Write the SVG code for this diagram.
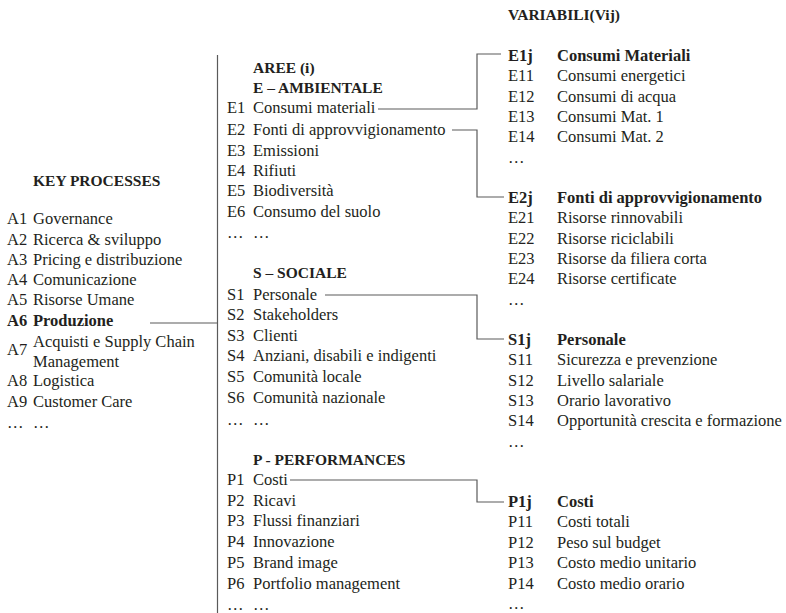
<svg xmlns="http://www.w3.org/2000/svg" width="786" height="613" viewBox="0 0 786 613">
<style>
text{font-family:"Liberation Serif","Times New Roman",serif;font-size:16.5px;fill:#231f20}
.b{font-weight:bold}
.h{font-weight:bold;font-size:15.5px}
.ln{fill:none;stroke:#5a5a5a;stroke-width:1.2}
</style>
<rect width="786" height="613" fill="#fff"/>
<g id="connectors">
<line class="ln" x1="217.5" y1="55" x2="217.5" y2="613"/>
<path class="ln" d="M150 323 H217.5"/>
<path class="ln" d="M378 109 H477 V54 H501"/>
<path class="ln" d="M452 130 H477 V197 H504"/>
<path class="ln" d="M325 295 H477 V339 H504"/>
<path class="ln" d="M290 480 H477 V502 H504"/>
</g>
<g id="key-processes">
<text class="h" x="33" y="186">KEY PROCESSES</text>
<text x="7" y="224">A1</text><text x="33" y="224">Governance</text>
<text x="7" y="245">A2</text><text x="33" y="245">Ricerca &amp; sviluppo</text>
<text x="7" y="265">A3</text><text x="33" y="265">Pricing e distribuzione</text>
<text x="7" y="285">A4</text><text x="33" y="285">Comunicazione</text>
<text x="7" y="305">A5</text><text x="33" y="305">Risorse Umane</text>
<text class="b" x="7" y="326">A6</text><text class="b" x="33" y="326">Produzione</text>
<text x="7" y="355">A7</text><text x="33" y="347">Acquisti e Supply Chain</text><text x="33" y="367">Management</text>
<text x="7" y="386">A8</text><text x="33" y="386">Logistica</text>
<text x="7" y="407">A9</text><text x="33" y="407">Customer Care</text>
<text x="7" y="428">…</text><text x="33" y="428">…</text>
</g>
<g id="aree-ambientale">
<text class="h" x="253" y="73">AREE (i)</text>
<text class="h" x="253" y="93">E – AMBIENTALE</text>
<text x="227" y="113">E1</text><text x="253" y="113">Consumi materiali</text>
<text x="227" y="135">E2</text><text x="253" y="135">Fonti di approvvigionamento</text>
<text x="227" y="156">E3</text><text x="253" y="156">Emissioni</text>
<text x="227" y="176">E4</text><text x="253" y="176">Rifiuti</text>
<text x="227" y="196">E5</text><text x="253" y="196">Biodiversità</text>
<text x="227" y="217">E6</text><text x="253" y="217">Consumo del suolo</text>
<text x="227" y="238">…</text><text x="253" y="238">…</text>
</g>
<g id="aree-sociale">
<text class="h" x="253" y="278">S – SOCIALE</text>
<text x="227" y="300">S1</text><text x="253" y="300">Personale</text>
<text x="227" y="320">S2</text><text x="253" y="320">Stakeholders</text>
<text x="227" y="341">S3</text><text x="253" y="341">Clienti</text>
<text x="227" y="361">S4</text><text x="253" y="361">Anziani, disabili e indigenti</text>
<text x="227" y="382">S5</text><text x="253" y="382">Comunità locale</text>
<text x="227" y="403">S6</text><text x="253" y="403">Comunità nazionale</text>
<text x="227" y="425">…</text><text x="253" y="425">…</text>
</g>
<g id="aree-performances">
<text class="h" x="253" y="465">P - PERFORMANCES</text>
<text x="227" y="485">P1</text><text x="253" y="485">Costi</text>
<text x="227" y="506">P2</text><text x="253" y="506">Ricavi</text>
<text x="227" y="526">P3</text><text x="253" y="526">Flussi finanziari</text>
<text x="227" y="547">P4</text><text x="253" y="547">Innovazione</text>
<text x="227" y="568">P5</text><text x="253" y="568">Brand image</text>
<text x="227" y="589">P6</text><text x="253" y="589">Portfolio management</text>
<text x="227" y="610">…</text><text x="253" y="610">…</text>
</g>
<g id="variabili-header">
<text class="h" x="508" y="20">VARIABILI(Vij)</text>
</g>
<g id="var-e1j">
<text class="b" x="508" y="61">E1j</text><text class="b" x="557" y="61">Consumi Materiali</text>
<text x="508" y="81">E11</text><text x="557" y="81">Consumi energetici</text>
<text x="508" y="102">E12</text><text x="557" y="102">Consumi di acqua</text>
<text x="508" y="122">E13</text><text x="557" y="122">Consumi Mat. 1</text>
<text x="508" y="142">E14</text><text x="557" y="142">Consumi Mat. 2</text>
<text x="508" y="163">…</text>
</g>
<g id="var-e2j">
<text class="b" x="508" y="203">E2j</text><text class="b" x="557" y="203">Fonti di approvvigionamento</text>
<text x="508" y="223">E21</text><text x="557" y="223">Risorse rinnovabili</text>
<text x="508" y="244">E22</text><text x="557" y="244">Risorse riciclabili</text>
<text x="508" y="264">E23</text><text x="557" y="264">Risorse da filiera corta</text>
<text x="508" y="284">E24</text><text x="557" y="284">Risorse certificate</text>
<text x="508" y="305">…</text>
</g>
<g id="var-s1j">
<text class="b" x="508" y="345">S1j</text><text class="b" x="557" y="345">Personale</text>
<text x="508" y="365">S11</text><text x="557" y="365">Sicurezza e prevenzione</text>
<text x="508" y="386">S12</text><text x="557" y="386">Livello salariale</text>
<text x="508" y="406">S13</text><text x="557" y="406">Orario lavorativo</text>
<text x="508" y="426">S14</text><text x="557" y="426">Opportunità crescita e formazione</text>
<text x="508" y="447">…</text>
</g>
<g id="var-p1j">
<text class="b" x="508" y="507">P1j</text><text class="b" x="557" y="507">Costi</text>
<text x="508" y="527">P11</text><text x="557" y="527">Costi totali</text>
<text x="508" y="548">P12</text><text x="557" y="548">Peso sul budget</text>
<text x="508" y="568">P13</text><text x="557" y="568">Costo medio unitario</text>
<text x="508" y="589">P14</text><text x="557" y="589">Costo medio orario</text>
<text x="508" y="609">…</text>
</g>
</svg>
